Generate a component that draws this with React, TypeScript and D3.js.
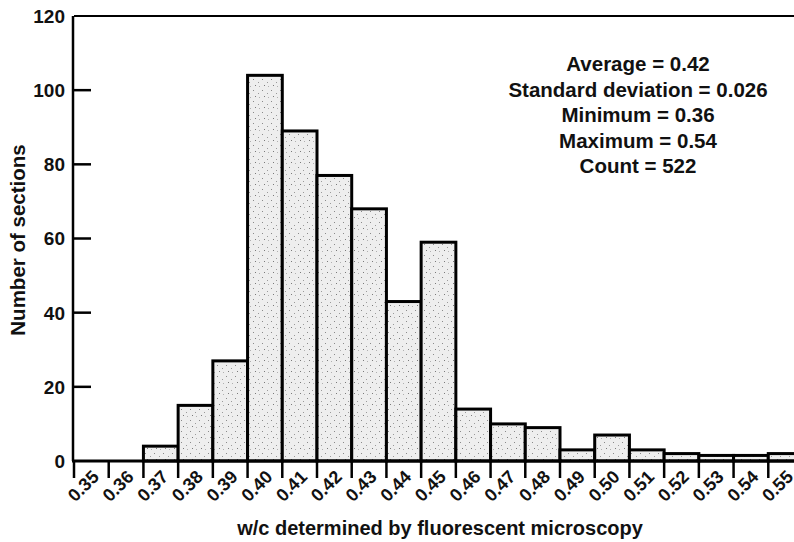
import React from 'react';
import * as d3 from 'd3';

// histogram bins (left edge) and counts
const binStarts = [0.37, 0.38, 0.39, 0.40, 0.41, 0.42, 0.43, 0.44, 0.45, 0.46, 0.47, 0.48, 0.49, 0.50, 0.51, 0.52, 0.53, 0.54, 0.55];
const counts = [4, 15, 27, 104, 89, 77, 68, 43, 59, 14, 10, 9, 3, 7, 3, 2, 1.5, 1.5, 2];
const xTicks = [0.35, 0.36, 0.37, 0.38, 0.39, 0.40, 0.41, 0.42, 0.43, 0.44, 0.45, 0.46, 0.47, 0.48, 0.49, 0.50, 0.51, 0.52, 0.53, 0.54, 0.55];
const yTicks = [0, 20, 40, 60, 80, 100, 120];
const statsLines = ['Average = 0.42', 'Standard deviation = 0.026', 'Minimum = 0.36', 'Maximum = 0.54', 'Count = 522'];

const W = 794, H = 542;
const font = 'Liberation Sans, Arial, sans-serif';

export default function App() {
  const x = d3.scaleLinear().domain([0.35, 0.56]).range([74, 803]);
  const y = d3.scaleLinear().domain([0, 120]).range([461, 16]);
  const fmt = d3.format('.2f');

  return (
    <svg width={W} height={H} style={{position: 'absolute', left: 0, top: 0, background: '#fff'}} fontFamily={font} fontWeight="bold" fill="#111">
      <defs>
        <pattern id="stip" width="9" height="11" patternUnits="userSpaceOnUse">
          <rect width="9" height="11" fill="#eeeeee" />
          <rect x="1" y="2" width="1" height="1" fill="#8a8a8a" />
          <rect x="6" y="5" width="1" height="1" fill="#9a9a9a" />
          <rect x="3" y="8" width="1" height="1" fill="#7a7a7a" />
          <rect x="7" y="9" width="1" height="1" fill="#b0b0b0" />
        </pattern>
      </defs>

      {binStarts.map((b, i) => (
        <rect key={i} x={x(b)} y={y(counts[i])} width={x(b + 0.01) - x(b)} height={y(0) - y(counts[i])}
          fill="url(#stip)" stroke="#000" strokeWidth={3} />
      ))}

      {/* frame */}
      <line x1={x(0.35)} x2={W + 10} y1={y(120)} y2={y(120)} stroke="#000" strokeWidth={2} />
      <line x1={x(0.35) - 1} x2={x(0.35) - 1} y1={y(120)} y2={y(0)} stroke="#000" strokeWidth={2.5} />
      <line x1={x(0.35) - 2} x2={W + 10} y1={y(0)} y2={y(0)} stroke="#000" strokeWidth={3} />

      {yTicks.map(t => (
        <g key={t}>
          {t > 0 && t < 120 && <line x1={x(0.35)} x2={x(0.35) + 17} y1={y(t)} y2={y(t)} stroke="#000" strokeWidth={2.5} />}
          <text x={65} y={y(t)} dy="0.36em" textAnchor="end" fontSize={19}>{t}</text>
        </g>
      ))}

      {xTicks.map(t => (
        <g key={t}>
          <line x1={x(t)} x2={x(t)} y1={y(0)} y2={y(0) + 17} stroke="#000" strokeWidth={2.5} />
          <text transform={`translate(${x(t) + 26},${y(0) + 17}) rotate(-45)`} textAnchor="end" fontSize={18}>{fmt(t)}</text>
        </g>
      ))}

      <text x={440} y={535} textAnchor="middle" fontSize={20}>w/c determined by fluorescent microscopy</text>
      <text transform={`translate(25,240) rotate(-90)`} textAnchor="middle" fontSize={20.5}>Number of sections</text>

      {statsLines.map((s, i) => (
        <text key={i} x={638} y={71 + i * 25.5} textAnchor="middle" fontSize={20.5}>{s}</text>
      ))}
    </svg>
  );
}
